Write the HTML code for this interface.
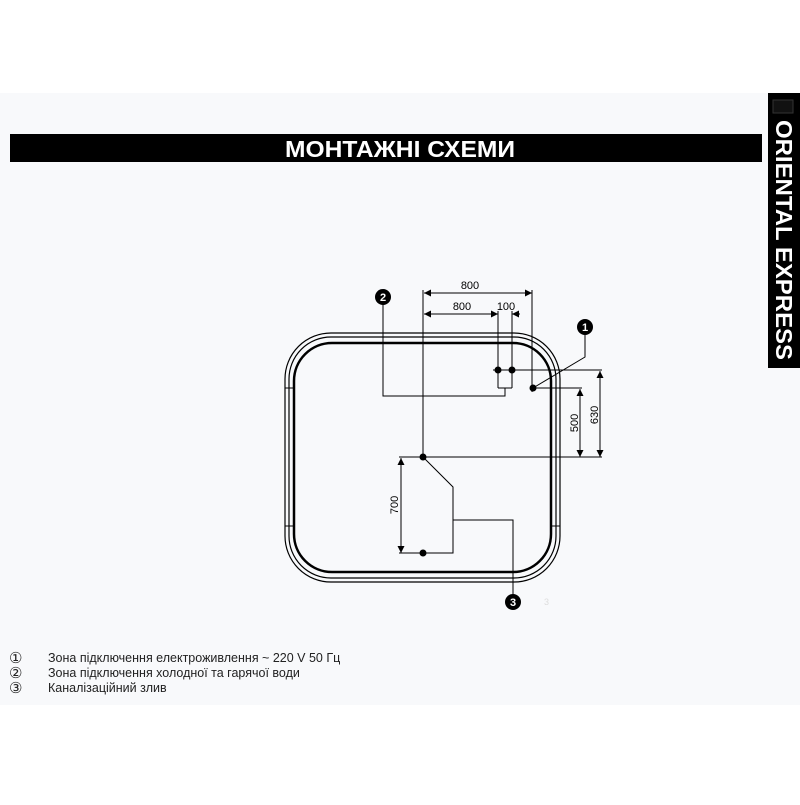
<!DOCTYPE html>
<html><head><meta charset="utf-8"><style>
body{margin:0;width:800px;height:800px;background:#fff;overflow:hidden;font-family:"Liberation Sans",sans-serif}
</style></head><body>
<svg width="800" height="800" viewBox="0 0 800 800" xmlns="http://www.w3.org/2000/svg">
<defs>
<marker id="a" viewBox="0 0 10 10" refX="10" refY="5" markerWidth="9" markerHeight="7" orient="auto-start-reverse" markerUnits="userSpaceOnUse"><path d="M0,0 L10,5 L0,10 z" fill="#000"/></marker>
</defs>
<rect x="0" y="93" width="800" height="612" fill="#f8f9fb"/>
<rect x="10" y="134" width="752" height="28" fill="#000"/>
<text x="400" y="157" fill="#fff" font-size="23" font-weight="bold" text-anchor="middle" textLength="230" lengthAdjust="spacingAndGlyphs">МОНТАЖНІ СХЕМИ</text>
<rect x="768" y="93" width="32" height="275" fill="#000"/>
<rect x="773" y="100" width="20" height="13" fill="#111" stroke="#333"/>
<text transform="translate(776,120) rotate(90)" fill="#fff" font-size="23" font-weight="bold" textLength="240" lengthAdjust="spacingAndGlyphs">ORIENTAL EXPRESS</text>

<g fill="none" stroke="#000">
<rect x="285" y="333" width="275" height="249" rx="46" stroke-width="1.2"/>
<rect x="289" y="337" width="267" height="241" rx="42" stroke-width="1.2"/>
<rect x="294" y="343" width="257" height="229" rx="38" stroke-width="2.5"/>
<path d="M285,388h9 M285,526h9 M551,388h9 M551,526h9" stroke-width="1"/>
</g>
<g stroke="#000" stroke-width="1" fill="none">
<line x1="424" y1="293" x2="532" y2="293" marker-start="url(#a)" marker-end="url(#a)"/>
<line x1="424" y1="314" x2="498" y2="314" marker-start="url(#a)" marker-end="url(#a)"/>
<line x1="520" y1="314" x2="512" y2="314" marker-end="url(#a)"/>
<line x1="423" y1="290" x2="423" y2="457"/>
<line x1="532" y1="290" x2="532" y2="392"/>
<line x1="498" y1="311" x2="498" y2="388"/>
<line x1="512" y1="311" x2="512" y2="388"/>
<line x1="498" y1="388" x2="512" y2="388"/>
<polyline points="383,300 383,396 505,396 505,388"/>
<line x1="493" y1="370" x2="602" y2="370"/>
<line x1="533" y1="388" x2="582" y2="388"/>
<polyline points="533,388 585,357 585,330"/>
<line x1="600" y1="371" x2="600" y2="457" marker-start="url(#a)" marker-end="url(#a)"/>
<line x1="580" y1="389" x2="580" y2="457" marker-start="url(#a)" marker-end="url(#a)"/>
<line x1="399" y1="457" x2="602" y2="457"/>
<polyline points="423,457 453,487 453,553 399,553"/>
<polyline points="453,520 513,520 513,600"/>
<line x1="401" y1="458" x2="401" y2="553" marker-start="url(#a)" marker-end="url(#a)"/>
</g>
<g fill="#000">
<circle cx="498" cy="370" r="3.5"/><circle cx="512" cy="370" r="3.5"/>
<circle cx="533" cy="388" r="3.5"/><circle cx="423" cy="457" r="3.5"/><circle cx="423" cy="553" r="3.5"/>
<circle cx="383" cy="297" r="8"/><circle cx="585" cy="327" r="8"/><circle cx="513" cy="602" r="8"/>
</g>
<g fill="#fff" font-size="11" font-weight="bold" text-anchor="middle">
<text x="383" y="301">2</text><text x="585" y="331">1</text><text x="513" y="606">3</text>
</g>
<g font-size="11" fill="#000" text-anchor="middle">
<text x="470" y="289">800</text>
<text x="462" y="310">800</text>
<text x="506" y="310">100</text>
<text transform="translate(578,423) rotate(-90)">500</text>
<text transform="translate(598,415) rotate(-90)">630</text>
<text transform="translate(398,505) rotate(-90)">700</text>
</g>
<text x="544" y="605" font-size="9" fill="#ddd">3</text>
<g fill="#222" font-family="Liberation Sans,sans-serif">
<text x="9" y="663" font-size="15">①</text><text x="48" y="662" font-size="12.5">Зона підключення електроживлення  ~ 220 V 50 Гц</text>
<text x="9" y="678" font-size="15">②</text><text x="48" y="677" font-size="12.5">Зона підключення холодної та гарячої води</text>
<text x="9" y="693" font-size="15">③</text><text x="48" y="692" font-size="12.5">Каналізаційний злив</text>
</g>
</svg>
</body></html>
